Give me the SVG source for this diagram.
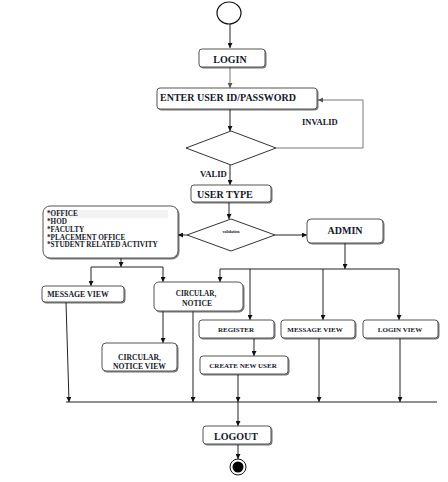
<svg xmlns="http://www.w3.org/2000/svg" width="448" height="482" viewBox="0 0 448 482">
<defs>
<marker id="ah" viewBox="0 0 10 10" refX="10" refY="5" markerWidth="5" markerHeight="5" markerUnits="userSpaceOnUse" orient="auto"><path d="M0,0 L10,5 L0,10 z" fill="#111"/></marker>
<marker id="ahg" viewBox="0 0 10 10" refX="10" refY="5" markerWidth="5" markerHeight="5" markerUnits="userSpaceOnUse" orient="auto"><path d="M0,0 L10,5 L0,10 z" fill="#555"/></marker>
<filter id="sh" x="-10%" y="-10%" width="130%" height="140%"><feDropShadow dx="1" dy="1" stdDeviation="0.4" flood-color="#000" flood-opacity="0.55"/></filter>
</defs>
<style>
.box{fill:#fff;stroke:#555;stroke-width:1;filter:url(#sh)}
.t{font-family:"Liberation Serif","Times New Roman",serif;font-weight:bold;fill:#14172b}
.c{text-anchor:middle}
.ln{stroke:#222;stroke-width:1;fill:none}
.lg{stroke:#777;stroke-width:1;fill:none}
</style>
<rect width="448" height="482" fill="#fff"/>

<g id="connectors">
<line class="ln" x1="230" y1="24" x2="230" y2="48" stroke-width="1.6" marker-end="url(#ah)"/>
<line class="lg" x1="230" y1="67" x2="230" y2="88" marker-end="url(#ahg)"/>
<line class="ln" x1="230" y1="109" x2="230" y2="131" stroke-width="1.6" marker-end="url(#ah)"/>
<polyline class="lg" points="276,148 363,148 363,100 318,100" marker-end="url(#ahg)"/>
<line class="ln" x1="230" y1="165" x2="230" y2="185" marker-end="url(#ah)"/>
<line class="ln" x1="229" y1="202" x2="229" y2="219" marker-end="url(#ah)"/>
<line class="ln" x1="187" y1="235" x2="178" y2="235" marker-end="url(#ah)"/>
<line class="ln" x1="275" y1="235" x2="307" y2="235" marker-end="url(#ah)"/>
<line class="ln" x1="345" y1="243" x2="345" y2="269" marker-end="url(#ah)"/>
<line class="ln" x1="220" y1="269" x2="399" y2="269"/>
<line class="ln" x1="220" y1="269" x2="220" y2="282" marker-end="url(#ah)"/>
<line class="ln" x1="250" y1="269" x2="250" y2="320" marker-end="url(#ah)"/>
<line class="ln" x1="323" y1="269" x2="323" y2="320" marker-end="url(#ah)"/>
<line class="ln" x1="399" y1="269" x2="399" y2="320" marker-end="url(#ah)"/>
<line class="ln" x1="121" y1="258" x2="121" y2="267" marker-end="url(#ah)"/>
<line class="ln" x1="91" y1="267" x2="163" y2="267"/>
<line class="ln" x1="91" y1="267" x2="91" y2="286" marker-end="url(#ah)"/>
<line class="ln" x1="163" y1="267" x2="163" y2="282" marker-end="url(#ah)"/>
<line class="ln" x1="163" y1="311" x2="163" y2="343" marker-end="url(#ah)"/>
<line class="ln" x1="193" y1="311" x2="193" y2="402" marker-end="url(#ah)"/>
<line class="ln" x1="66" y1="302" x2="69" y2="402" marker-end="url(#ah)"/>
<line class="ln" x1="254" y1="338" x2="254" y2="356" marker-end="url(#ah)"/>
<line class="ln" x1="238" y1="374" x2="238" y2="402" marker-end="url(#ah)"/>
<line class="ln" x1="319" y1="338" x2="319" y2="402" marker-end="url(#ah)"/>
<line class="ln" x1="400" y1="338" x2="400" y2="402" marker-end="url(#ah)"/>
<line class="ln" x1="66" y1="402" x2="437" y2="402" stroke="#444"/>
<line class="ln" x1="238" y1="402" x2="238" y2="426" marker-end="url(#ah)"/>
<line class="ln" x1="238" y1="444" x2="238" y2="459" marker-end="url(#ah)"/>
<text class="t" x="302" y="125" font-size="8.5">INVALID</text>
<text class="t" x="200" y="177" font-size="8.7">VALID</text>
</g>

<g id="start"><ellipse cx="229" cy="13" rx="12" ry="11" fill="#fff" stroke="#111" stroke-width="1.2"/></g>
<g id="login"><rect class="box" x="199" y="49" width="66" height="18" rx="3"/><text class="t c" x="230" y="63" font-size="10">LOGIN</text></g>
<g id="enter"><rect class="box" x="157" y="88" width="160" height="21" rx="3"/><text class="t" x="160" y="101" font-size="10">ENTER USER ID/PASSWORD</text></g>
<g id="check"><polygon points="186,148 231,131 276,148 231,165" fill="#fff" stroke="#333" stroke-width="1"/></g>
<g id="usertype"><rect class="box" x="191" y="185" width="80" height="17" rx="3"/><text class="t" x="197" y="198" font-size="10">USER TYPE</text></g>
<g id="validation"><polygon points="187,235 231,219 275,235 231,251" fill="#fff" stroke="#333" stroke-width="1"/><text class="t c" x="231" y="233" font-size="4">validation</text></g>
<g id="admin"><rect class="box" x="307" y="219" width="76" height="24" rx="4"/><text class="t c" x="345" y="234" font-size="10">ADMIN</text></g>
<g id="roles"><rect class="box" x="43" y="206" width="135" height="52" rx="7"/>
<rect x="46" y="210" width="122" height="8" fill="#f3f3f3"/>
<text class="t" x="47" y="216" font-size="7.2">*OFFICE</text>
<text class="t" x="47" y="224" font-size="7.2">*HOD</text>
<text class="t" x="47" y="231.5" font-size="7.2">*FACULTY</text>
<text class="t" x="47" y="239.5" font-size="7.2">*PLACEMENT OFFICE</text>
<text class="t" x="47" y="247" font-size="7.2">*STUDENT RELATED ACTIVITY</text></g>
<g id="msgview1"><rect class="box" x="42" y="286" width="82" height="16" rx="3"/><text class="t c" x="78" y="297" font-size="7.8">MESSAGE VIEW</text></g>
<g id="circular"><rect class="box" x="154" y="282" width="89" height="29" rx="5"/><text class="t c" x="196" y="296" font-size="7.2">CIRCULAR,</text><text class="t c" x="197" y="306" font-size="7.6">NOTICE</text></g>
<g id="circularview"><rect class="box" x="102" y="343" width="75" height="28" rx="4"/><text class="t c" x="139.5" y="360" font-size="7.6">CIRCULAR,</text><text class="t c" x="139.5" y="369" font-size="7.6">NOTICE VIEW</text></g>
<g id="register"><rect class="box" x="199" y="320" width="75" height="18" rx="3"/><text class="t c" x="236" y="332" font-size="7">REGISTER</text></g>
<g id="msgview2"><rect class="box" x="281" y="320" width="74" height="18" rx="3"/><text class="t c" x="315" y="332" font-size="7">MESSAGE VIEW</text></g>
<g id="loginview"><rect class="box" x="363" y="320" width="75" height="18" rx="3"/><text class="t c" x="400" y="332" font-size="7">LOGIN VIEW</text></g>
<g id="createuser"><rect class="box" x="200" y="356" width="88" height="18" rx="3"/><text class="t c" x="243" y="368" font-size="7">CREATE NEW USER</text></g>
<g id="logout"><rect class="box" x="203" y="426" width="68" height="18" rx="3"/><text class="t c" x="236" y="440" font-size="10">LOGOUT</text></g>
<g id="end"><circle cx="238" cy="467" r="8" fill="#fff" stroke="#111" stroke-width="1"/><circle cx="238" cy="467" r="5.5" fill="#000"/></g>
</svg>
